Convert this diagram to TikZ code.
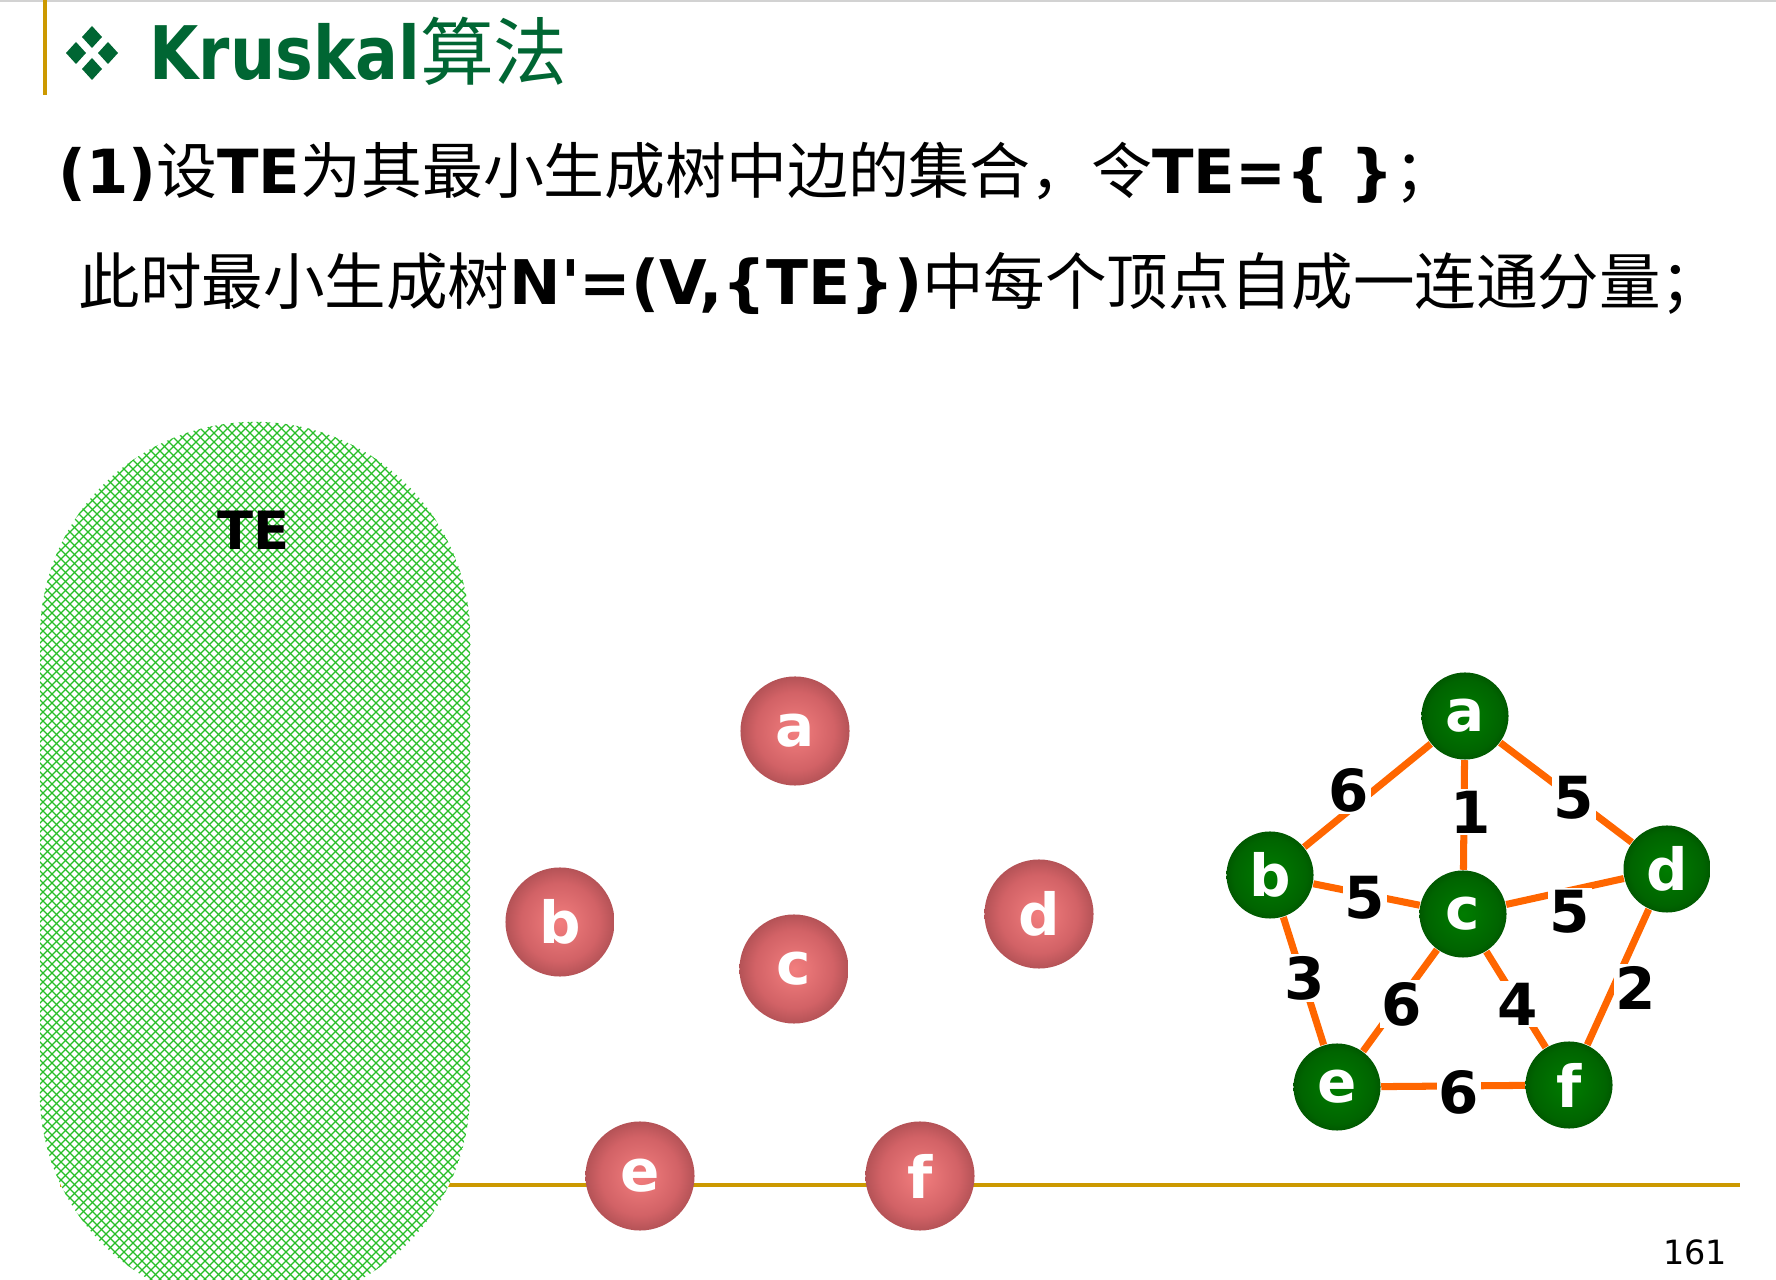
\documentclass[tikz,border=0pt]{standalone}
\usepackage{fontspec}
\setmainfont{DejaVu Sans}[Ligatures=TeXOff]
\newfontfamily\cjkfam{Noto Sans CJK SC}
\newfontfamily\titlelat{DejaVu Sans Bold}[FakeStretch=0.86]
\newcommand\LB{\normalfont\bfseries}
\newcommand\CJ{\normalfont\cjkfam}
\definecolor{titlegreen}{RGB}{0,102,51}
\definecolor{gold}{RGB}{204,153,0}
\definecolor{hatchgreen}{RGB}{40,190,40}
\definecolor{edgeor}{RGB}{255,102,0}
\definecolor{rin}{RGB}{242,126,126}
\definecolor{rmid}{RGB}{210,98,102}
\definecolor{rdark}{RGB}{168,76,80}
\definecolor{rout}{RGB}{118,54,58}
\definecolor{gin}{RGB}{0,124,0}
\definecolor{gmid}{RGB}{0,100,0}
\definecolor{gout}{RGB}{0,60,0}
\pgfdeclareradialshading{redball}{\pgfpointorigin}{color(0bp)=(rin); color(18bp)=(rmid); color(28bp)=(rdark); color(35bp)=(rout); color(50bp)=(rout)}
\pgfdeclareradialshading{greenball}{\pgfpointorigin}{color(0bp)=(gin); color(21bp)=(gmid); color(35bp)=(gout); color(50bp)=(gout)}
\tikzset{
  rball/.style={circle, minimum size=1.09cm, inner sep=0pt, shade, shading=redball, text=white, font=\fontsize{16.5pt}{16.5pt}\selectfont\bfseries},
  gball/.style={circle, minimum size=0.87cm, inner sep=0pt, shade, shading=greenball, text=white, font=\fontsize{16.5pt}{16.5pt}\selectfont\bfseries},
  wedge/.style={draw=edgeor, line width=2pt},
  wlabel/.style={fill=white, inner sep=0.6pt, font=\fontsize{16.5pt}{16.5pt}\selectfont\bfseries},
  hatchline/.style={draw=hatchgreen, line width=0.35pt},
  bulletdia/.style={fill=titlegreen},
}
\begin{document}
\begin{tikzpicture}[x=0.01cm,y=-0.01cm]
\useasboundingbox (0,0) rectangle (1776,1280);
\fill[white] (0,0) rectangle (1776,1280);
% top rules
\draw[gray!35, line width=0.6pt] (0,1) -- (1776,1);
\draw[gold, line width=1.1pt] (45,0) -- (45,95);
% bullet
\foreach \dx/\dy in {0/-16,-16/0,16/0,0/16}
  \fill[bulletdia] (92+\dx,53+\dy-11) -- (92+\dx+10,53+\dy) -- (92+\dx,53+\dy+11) -- (92+\dx-10,53+\dy) -- cycle;
% title
\node[anchor=base west, inner sep=0pt, text=titlegreen] (title) at (149,80)
  {{\titlelat\fontsize{21pt}{21pt}\selectfont Kruskal}{\cjkfam\fontsize{21pt}{21pt}\selectfont 算法}};
% text lines
\node[anchor=base west, inner sep=0pt, font=\fontsize{17.3pt}{17.3pt}\selectfont] (line1) at (58,194)
  {\LB (1)\CJ 设\LB TE\CJ 为其最小生成树中边的集合，令\LB TE=\{ \}\CJ ；};
\node[anchor=base west, inner sep=0pt, font=\fontsize{17.5pt}{17.5pt}\selectfont] (line2) at (78,305)
  {\CJ 此时最小生成树\LB N'=(V,\{TE\})\CJ 中每个顶点自成一连通分量；};
% bottom rule
\draw[gold, line width=0.9pt] (60,1185) -- (1740,1185);
% TE region
\begin{scope}
  \clip (0,0) rectangle (1776,1280);
  \clip (40,1092) -- (40,637) arc[start angle=180,end angle=0,radius=2.15cm] -- (470,1092) arc[start angle=0,end angle=-180,radius=2.15cm] -- cycle;
  \fill[white] (0,400) rectangle (500,1320);
  \foreach \c in {-1290,-1281,...,70} \draw[hatchline] (\c+400,400) -- (\c+1330,1330);
  \foreach \c in {440,449,...,1800} \draw[hatchline] (\c-400,400) -- (\c-1330,1330);
\end{scope}
\node[font=\fontsize{15pt}{15pt}\selectfont\bfseries] (telabel) at (254,530) {TE};
% red vertices
\node[rball] (ra) at (795,731) {a};
\node[rball] (rb) at (560,922) {b};
\node[rball] (rc) at (794,969) {c};
\node[rball] (rd) at (1039,914) {d};
\node[rball] (re) at (640,1176) {e};
\node[rball] (rf) at (920,1176) {f};
% green graph
\node[gball] (ga) at (1465,716) {a};
\node[gball] (gb) at (1270,875) {b};
\node[gball] (gc) at (1463,914) {c};
\node[gball] (gd) at (1667,869) {d};
\node[gball] (ge) at (1337,1087) {e};
\node[gball] (gf) at (1569,1085) {f};
\draw[wedge] (ga) -- (gb);
\draw[wedge] (ga) -- (gc);
\draw[wedge] (ga) -- (gd);
\draw[wedge] (gb) -- (gc);
\draw[wedge] (gc) -- (gd);
\draw[wedge] (gb) -- (ge);
\draw[wedge] (gc) -- (ge);
\draw[wedge] (gc) -- (gf);
\draw[wedge] (gd) -- (gf);
\draw[wedge] (ge) -- (gf);
\node[wlabel] (lab) at (1349,790) {6};
\node[wlabel] (lac) at (1471,812) {1};
\node[wlabel] (lad) at (1574,798) {5};
\node[wlabel] (lbc) at (1365,898) {5};
\node[wlabel] (lcd) at (1570,912) {5};
\node[wlabel] (lbe) at (1305,978) {3};
\node[wlabel] (lce) at (1402,1004) {6};
\node[wlabel] (lcf) at (1518,1004) {4};
\node[wlabel] (ldf) at (1636,988) {2};
\node[wlabel] (lef) at (1459,1092) {6};
% page number
\node[font=\fontsize{9.5pt}{9.5pt}\selectfont] (pagenum) at (1695,1252) {161};
\end{tikzpicture}
\end{document}
